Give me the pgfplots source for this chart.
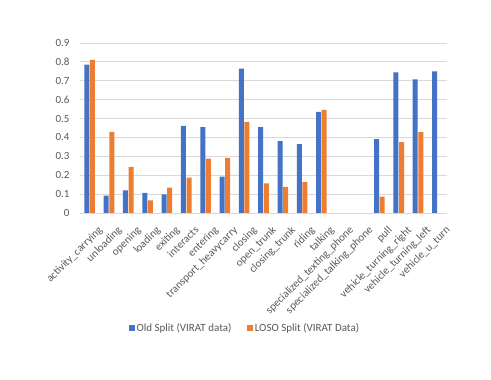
\documentclass[border=0pt]{standalone}
\usepackage{pgfplots}
\pgfplotsset{compat=1.18}
\usepackage{fontspec}
\setmainfont{Carlito}
\definecolor{oblue}{HTML}{4472C4}
\definecolor{oorange}{HTML}{ED7D31}
\definecolor{tgray}{HTML}{595959}
\definecolor{ggray}{HTML}{D9D9D9}
\begin{document}
\begin{tikzpicture}
\useasboundingbox (-80pt,-167pt) rectangle (411pt,213pt);
\begin{axis}[
  at={(0pt,0pt)}, anchor=south west,
  scale only axis, width=367pt, height=170pt,
  ybar=0.6pt, bar width=5pt,
  xmin=-0.5, xmax=18.5, ymin=0, ymax=0.9,
  ytick={0,0.1,...,0.9},
  yticklabel style={/pgf/number format/fixed, /pgf/number format/precision=1},
  /pgf/number format/assume math mode=true,
  xtick={0,...,18},
  xticklabels={activity\_carrying,unloading,opening,loading,exiting,interacts,entering,transport\_heavycarry,closing,open\_trunk,closing\_trunk,riding,talking,specialized\_texting\_phone,specialized\_talking\_phone,pull,vehicle\_turning\_right,vehicle\_turning\_left,vehicle\_u\_turn},
  xticklabel style={rotate=45, anchor=north east, inner sep=0pt, yshift=-11pt, font=\fontsize{11}{12}\selectfont, text=tgray},
  yticklabel style={font=\fontsize{11}{12}\selectfont, text=tgray, xshift=-7pt},
  ymajorgrids, grid style={ggray, line width=0.8pt},
  axis line style={draw=none},
  major tick style={draw=none},
  legend style={at={(0.45,-0.676)}, anchor=center, draw=none, legend columns=2,
    font=\fontsize{11}{12}\selectfont, text=tgray, /tikz/every even column/.append style={column sep=14pt}},
  legend image code/.code={\fill[#1] (0pt,-2.7pt) rectangle (5.4pt,2.7pt);},
]
\draw[ggray, line width=0.8pt] (rel axis cs:0,0) -- (rel axis cs:1,0);
\addplot[fill=oblue, draw=none] coordinates {
(0,0.785) (1,0.092) (2,0.12) (3,0.106) (4,0.099) (5,0.461) (6,0.454) (7,0.193) (8,0.764)
(9,0.454) (10,0.38) (11,0.364) (12,0.536) (15,0.391) (16,0.744) (17,0.707) (18,0.75)};
\addplot[fill=oorange, draw=none] coordinates {
(0,0.81) (1,0.43) (2,0.244) (3,0.067) (4,0.134) (5,0.187) (6,0.288) (7,0.292) (8,0.483)
(9,0.157) (10,0.138) (11,0.164) (12,0.546) (15,0.087) (16,0.375) (17,0.428)};
\legend{Old Split (VIRAT data), LOSO Split (VIRAT Data)}
\end{axis}
\end{tikzpicture}
\end{document}
